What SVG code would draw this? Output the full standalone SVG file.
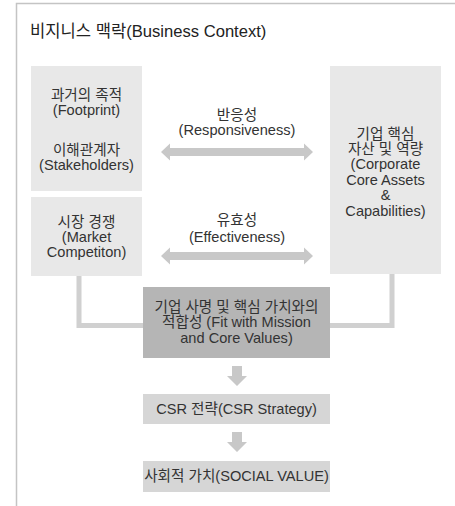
<svg xmlns="http://www.w3.org/2000/svg" width="455" height="506" viewBox="0 0 455 506">
<style>
text{font-family:"Liberation Sans","Noto Sans CJK KR",sans-serif;fill:#333;text-anchor:middle;font-size:14.6px;}
.title{text-anchor:start;font-size:16.6px;fill:#222;}
.light{fill:#e8e8e8;}
.mid{fill:#d6d6d6;}
.dark{fill:#b5b5b5;}
.arr{fill:#c8c8c8;}
.conn{fill:none;stroke:#d0d0d0;stroke-width:5;}
</style>
<rect x="0" y="0" width="455" height="506" fill="#fff"/>
<path d="M16.5,506 V3.5 H455" fill="none" stroke="#c4c4c4" stroke-width="1.5"/>
<text class="title" x="30" y="37">비지니스 맥락(Business Context)</text>

<g id="connectors">
<path class="conn" d="M79,276 V325.5 H143"/>
<path class="conn" d="M392,274 V325.5 H330"/>
<path class="arr" d="M161,152 L170,143.5 V148 H304 V143.5 L313,152 L304,160.5 V156 H170 V160.5 Z"/>
<path class="arr" d="M161,256 L170,247.5 V252 H304 V247.5 L313,256 L304,264.5 V260 H170 V264.5 Z"/>
<path class="arr" d="M232,366 H242 V376 H247 L237,386 L227,376 H232 Z"/>
<path class="arr" d="M232,432 H242 V442 H247 L237,452 L227,442 H232 Z"/>
</g>

<g id="footprint">
<rect class="light" x="31" y="66" width="111" height="125"/>
<text x="86.5" y="100">과거의 족적</text>
<text x="86.5" y="115">(Footprint)</text>
<text x="86.5" y="155">이해관계자</text>
<text x="86.5" y="170">(Stakeholders)</text>
</g>

<g id="market">
<rect class="light" x="31" y="197" width="111" height="79"/>
<text x="86.5" y="227">시장 경쟁</text>
<text x="86.5" y="242">(Market</text>
<text x="86.5" y="257">Competiton)</text>
</g>

<g id="core-assets">
<rect class="light" x="330" y="66" width="111" height="208"/>
<text x="385.5" y="139">기업 핵심</text>
<text x="385.5" y="154">자산 및 역량</text>
<text x="385.5" y="169">(Corporate</text>
<text x="385.5" y="185">Core Assets</text>
<text x="385.5" y="200">&amp;</text>
<text x="385.5" y="216">Capabilities)</text>
</g>

<g id="responsiveness">
<text x="237" y="120">반응성</text>
<text x="237" y="135">(Responsiveness)</text>
</g>

<g id="effectiveness">
<text x="237" y="225">유효성</text>
<text x="237" y="242">(Effectiveness)</text>
</g>

<g id="fit">
<rect class="dark" x="143" y="287" width="187" height="71"/>
<text x="236.5" y="312">기업 사명 및 핵심 가치와의</text>
<text x="236.5" y="327">적합성 (Fit with Mission</text>
<text x="236.5" y="343">and Core Values)</text>
</g>

<g id="csr">
<rect class="mid" x="143" y="394" width="187" height="30"/>
<text x="236.5" y="414">CSR 전략(CSR Strategy)</text>
</g>

<g id="social">
<rect class="mid" x="143" y="461" width="187" height="31"/>
<text x="236.5" y="481">사회적 가치(SOCIAL VALUE)</text>
</g>
</svg>
